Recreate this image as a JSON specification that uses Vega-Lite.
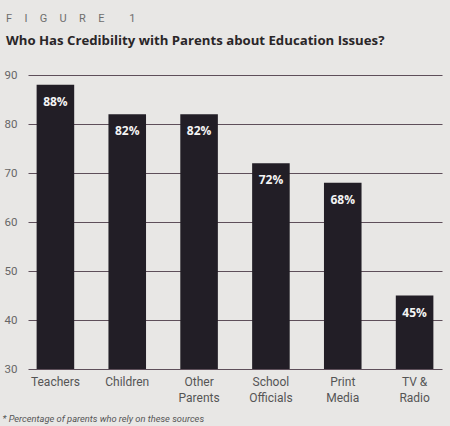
{
  "$schema": "https://vega.github.io/schema/vega-lite/v6.json",
  "autosize": "none",
  "width": 414,
  "height": 294,
  "padding": {"left": 28, "top": 75, "right": 8, "bottom": 57},
  "background": "#e8e7e5",
  "title": {
    "text": "F\u2003\u200aI\u2003\u200aG\u2003\u200aU\u2003\u200aR\u2003\u200aE\u2003\u2003\u20091",
    "subtitle": "Who Has Credibility with Parents about Education Issues?",
    "anchor": "start",
    "frame": "group",
    "dx": -22,
    "offset": 22,
    "font": "Roboto",
    "fontSize": 11,
    "fontWeight": "normal",
    "color": "#6e6e6e",
    "subtitleFont": "Open Sans",
    "subtitleFontSize": 13.2,
    "subtitleFontWeight": "bold",
    "subtitleColor": "#2a2628",
    "subtitlePadding": 11
  },
  "data": {
    "values": [
      {"source": "Teachers", "pct": 88, "label": "88%"},
      {"source": "Children", "pct": 82, "label": "82%"},
      {"source": "Other Parents", "pct": 82, "label": "82%"},
      {"source": "School Officials", "pct": 72, "label": "72%"},
      {"source": "Print Media", "pct": 68, "label": "68%"},
      {"source": "TV & Radio", "pct": 45, "label": "45%"}
    ]
  },
  "encoding": {
    "x": {
      "field": "source",
      "type": "nominal",
      "sort": null,
      "scale": {"paddingInner": 0.477, "paddingOuter": 0.12},
      "axis": {
        "title": "* Percentage of parents who rely on these sources",
        "titleFont": "Roboto",
        "titleFontStyle": "italic",
        "titleFontWeight": "normal",
        "titleFontSize": 9.3,
        "titleColor": "#555555",
        "titleAnchor": "start",
        "titleAlign": "left",
        "titleBaseline": "alphabetic",
        "titleX": -26,
        "titleY": 52,
        "labelAngle": 0,
        "labelExpr": "datum.label == 'TV & Radio' ? ['TV &', 'Radio'] : split(datum.label, ' ')",
        "labelFont": "Roboto",
        "labelFontSize": 12,
        "labelColor": "#555555",
        "labelLineHeight": 16,
        "labelPadding": 7,
        "domain": false,
        "ticks": false,
        "grid": false
      }
    },
    "y": {
      "field": "pct",
      "type": "quantitative",
      "scale": {"domain": [30, 90], "nice": false},
      "axis": {
        "title": null,
        "values": [30, 40, 50, 60, 70, 80, 90],
        "labelFont": "Roboto",
        "labelFontSize": 11.5,
        "labelColor": "#666666",
        "labelPadding": 11,
        "domain": false,
        "ticks": false,
        "grid": true,
        "gridColor": "#5e4f5a",
        "gridWidth": 1.2,
        "gridOpacity": 1
      }
    }
  },
  "layer": [
    {
      "mark": {"type": "bar", "color": "#221e26", "clip": true},
      "encoding": {"y2": {"datum": 30}}
    },
    {
      "mark": {
        "type": "text",
        "baseline": "middle",
        "dy": 17,
        "font": "Open Sans",
        "fontSize": 12,
        "fontWeight": "bold",
        "color": "#f4f4f4"
      },
      "encoding": {"text": {"field": "label", "type": "nominal"}}
    }
  ],
  "config": {"view": {"stroke": null}}
}
